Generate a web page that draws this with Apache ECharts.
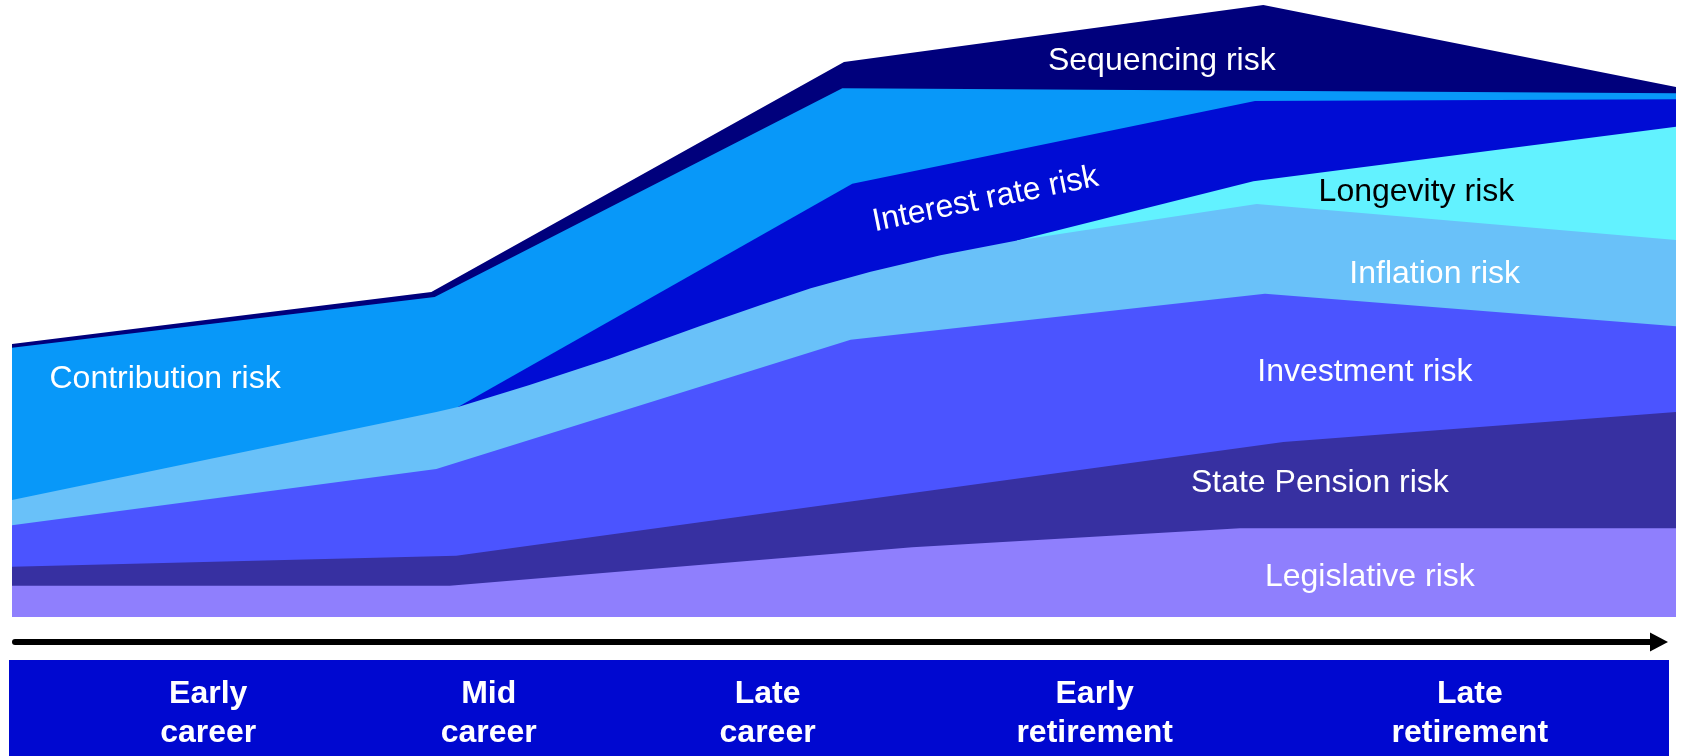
<!DOCTYPE html>
<html>
<head>
<meta charset="utf-8">
<title>Retirement risks across the life course</title>
<script src="https://cdn.jsdelivr.net/npm/echarts@6/dist/echarts.min.js"></script>
<style>
  html, body { margin: 0; padding: 0; background: #ffffff; }
  #chart { width: 1683px; height: 756px; }
</style>
</head>
<body>
<div id="chart"></div>
<script>
// Upper edge of each risk band: [life stage 0-100, cumulative exposure 0-100]
const sequencingTop   = [[0, 44.6], [25.2, 53.1], [50.0, 90.7], [75.2, 100], [100, 86.6]];
const contributionTop = [[0, 44.0], [25.4, 52.3], [49.9, 86.4], [100, 85.6]];
const interestTop     = [[26.8, 34.3], [50.5, 70.8], [74.7, 84.3], [100, 84.6]];
const longevityTop    = [[60.4, 61.5], [74.6, 71.2], [100, 80.1]];
const inflationTop    = [[0, 19.1], [25.5, 33.5], [26.8, 34.3], [31.1, 37.9], [35.9, 42.2],
                         [41.4, 47.6], [45.0, 51.0], [48.0, 53.7], [51.6, 56.4], [55.8, 59.1],
                         [60.4, 61.5], [74.8, 67.5], [100, 61.6]];
const investmentTop   = [[0, 15.0], [25.5, 24.2], [50.4, 45.3], [75.3, 52.8], [100, 47.5]];
const statePensionTop = [[0, 8.2], [26.7, 10.0], [76.4, 28.6], [100, 33.5]];
const legislativeTop  = [[0, 5.1], [26.3, 5.1], [54.1, 11.4], [73.8, 14.5], [100, 14.5]];

// Bands listed from the top of the stack down
const riskNames = ['Sequencing risk', 'Contribution risk', 'Interest rate risk', 'Longevity risk',
                   'Inflation risk', 'Investment risk', 'State Pension risk', 'Legislative risk'];
const bandTops = [sequencingTop, contributionTop, interestTop, longevityTop,
                  inflationTop, investmentTop, statePensionTop, legislativeTop];

// Life stages shown in the banner (0-100 along the banner)
const stageNames = ['Early\ncareer', 'Mid\ncareer', 'Late\ncareer', 'Early\nretirement', 'Late\nretirement'];
const stageCentres = [12.0, 28.9, 45.7, 65.4, 88.0];

// Presentation
const bandColors = ['#00007c', '#0898f9', '#000cd4', '#62f2ff', '#69c1f9', '#4b54ff', '#3730a1', '#8f7ffd'];
const labelAnchors = [[69.1, 90.8], [9.2, 38.9], [58.5, 68.2], [84.4, 69.4],
                      [85.5, 56.0], [81.3, 40.0], [78.6, 21.9], [81.6, 6.5]];
const labelRotation = [0, 0, 11.5, 0, 0, 0, 0, 0];
const labelColors = ['#ffffff', '#ffffff', '#ffffff', '#000000', '#ffffff', '#ffffff', '#ffffff', '#ffffff'];
const FONT = '"Liberation Sans", Arial, Helvetica, sans-serif';

const chart = echarts.init(document.getElementById('chart'), null, { renderer: 'canvas' });

// Each band is filled from its upper edge down to the baseline; drawing the
// bands top-first lets every lower band cover the one above it.
const bandSeries = bandTops.map((top, i) => ({
  name: riskNames[i],
  type: 'line',
  xAxisIndex: 0,
  yAxisIndex: 0,
  data: top,
  symbol: 'none',
  showSymbol: false,
  silent: true,
  lineStyle: { width: 0, opacity: 0 },
  areaStyle: { color: bandColors[i], opacity: 1 },
  z: 2
}));

const bandLabels = {
  type: 'scatter',
  xAxisIndex: 0,
  yAxisIndex: 0,
  symbolSize: 0,
  silent: true,
  z: 5,
  itemStyle: { opacity: 1 },
  data: riskNames.map((name, i) => ({
    name: name,
    value: labelAnchors[i],
    label: { rotate: labelRotation[i], color: labelColors[i] }
  })),
  label: {
    show: true,
    position: 'inside',
    formatter: '{b}',
    opacity: 1,
    fontFamily: FONT,
    fontSize: 32,
    align: 'center',
    verticalAlign: 'middle'
  }
};

const stageLabels = {
  type: 'scatter',
  xAxisIndex: 1,
  yAxisIndex: 1,
  symbolSize: 0,
  silent: true,
  z: 5,
  itemStyle: { opacity: 1 },
  data: stageNames.map((name, i) => ({ name: name, value: [stageCentres[i], 0.445] })),
  label: {
    show: true,
    position: 'inside',
    formatter: '{b}',
    opacity: 1,
    color: '#ffffff',
    fontFamily: FONT,
    fontSize: 32,
    fontWeight: 'bold',
    lineHeight: 39,
    align: 'center',
    verticalAlign: 'middle'
  }
};

const hiddenAxis = {
  axisLine: { show: false }, axisTick: { show: false },
  axisLabel: { show: false }, splitLine: { show: false }
};

chart.setOption({
  animation: false,
  backgroundColor: '#ffffff',
  grid: [
    { left: 12, right: 7, top: 5, bottom: 139 },                 // risk bands
    { left: 9, right: 14, top: 660, bottom: 0, show: true,        // life-stage banner
      backgroundColor: '#0008d0', borderWidth: 0 },
    { left: 15, right: 24, top: 632, height: 10 }                 // time arrow
  ],
  xAxis: [
    Object.assign({ type: 'value', gridIndex: 0, min: 0, max: 100 }, hiddenAxis),
    Object.assign({ type: 'value', gridIndex: 1, min: 0, max: 100 }, hiddenAxis),
    {
      type: 'value', gridIndex: 2, min: 0, max: 1, position: 'bottom',
      axisLine: {
        show: true,
        onZero: false,
        symbol: ['none', 'triangle'],
        symbolSize: [19, 18],
        lineStyle: { color: '#000000', width: 6 }
      },
      axisTick: { show: false }, axisLabel: { show: false }, splitLine: { show: false }
    }
  ],
  yAxis: [
    Object.assign({ type: 'value', gridIndex: 0, min: 0, max: 100 }, hiddenAxis),
    Object.assign({ type: 'value', gridIndex: 1, min: 0, max: 1 }, hiddenAxis),
    Object.assign({ type: 'value', gridIndex: 2, min: 0, max: 1 }, hiddenAxis)
  ],
  series: bandSeries.concat([bandLabels, stageLabels])
});
</script>
</body>
</html>
